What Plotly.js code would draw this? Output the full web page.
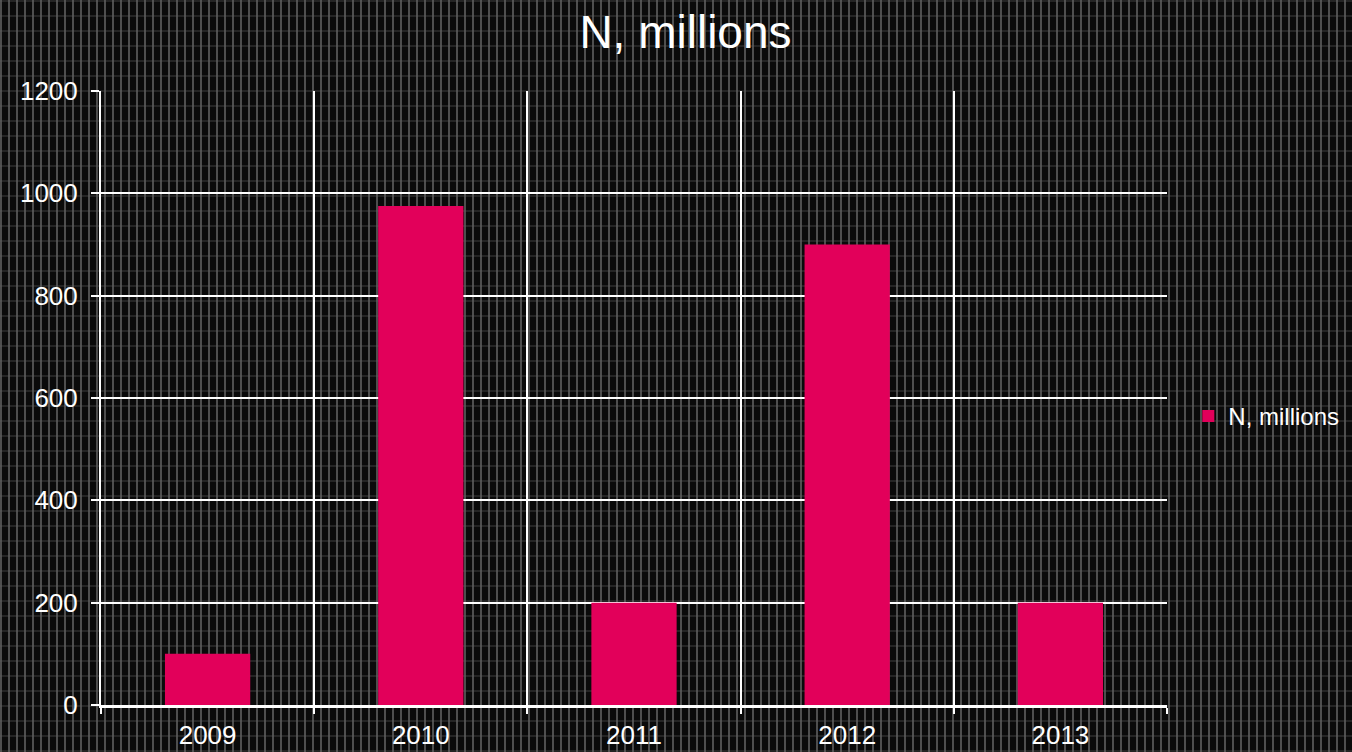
<!DOCTYPE html>
<html>
<head>
<meta charset="utf-8">
<script src="https://cdn.plot.ly/plotly-3.0.1.min.js"></script>
<style>
  html, body { margin: 0; padding: 0; width: 1352px; height: 752px; overflow: hidden; }
  body {
    background-color: #0a0a0a;
    background-image:
      repeating-linear-gradient(90deg, rgba(95,95,95,0.8) 0px, rgba(95,95,95,0.8) 2px, transparent 2px, transparent 8px),
      repeating-linear-gradient(0deg, rgba(95,95,95,0.3) 0px, rgba(95,95,95,0.3) 2px, transparent 2px, transparent 15px);
  }
  #chart { width: 1352px; height: 752px; }
</style>
</head>
<body>
<div id="chart"></div>
<script>
const categories = ["2009", "2010", "2011", "2012", "2013"];
const values = [100, 975, 200, 900, 200];
const seriesName = "N, millions";
const chartTitle = "N, millions";
const yTicks = [0, 200, 400, 600, 800, 1000, 1200];

const trace = {
  type: "bar",
  x: categories,
  y: values,
  name: seriesName,
  marker: { color: "#e2005a" },
  width: 0.4,
  showlegend: true
};

const FONT = "Liberation Sans, Arial, sans-serif";

const layout = {
  width: 1352,
  height: 752,
  paper_bgcolor: "rgba(0,0,0,0)",
  plot_bgcolor: "rgba(0,0,0,0)",
  font: { family: FONT, color: "#ffffff", size: 26 },
  title: {
    text: chartTitle,
    font: { size: 46, color: "#ffffff", family: FONT },
    x: 0.507, xanchor: "center",
    y: 0.958, yanchor: "middle"
  },
  margin: { l: 101, r: 185, t: 91, b: 47, autoexpand: false },
  xaxis: {
    type: "category",
    tickson: "boundaries",
    showgrid: true,
    gridcolor: "#ffffff",
    gridwidth: 2,
    showline: true,
    linecolor: "#ffffff",
    linewidth: 3,
    ticks: "outside",
    ticklen: 6,
    tickwidth: 2,
    tickcolor: "#ffffff",
    tickfont: { size: 26, color: "#ffffff", family: FONT },
    ticklabelstandoff: 5,
    zeroline: false,
    automargin: false
  },
  yaxis: {
    range: [0, 1200],
    tickvals: yTicks,
    showgrid: true,
    gridcolor: "#ffffff",
    gridwidth: 2,
    showline: true,
    linecolor: "#ffffff",
    linewidth: 2,
    ticks: "outside",
    ticklen: 8,
    tickwidth: 2,
    tickcolor: "#ffffff",
    tickfont: { size: 26, color: "#ffffff", family: FONT },
    ticklabelstandoff: 8,
    zeroline: false,
    automargin: false
  },
  legend: {
    x: 1.02, xanchor: "left",
    y: 0.47, yanchor: "middle",
    bgcolor: "rgba(0,0,0,0)",
    font: { size: 24, color: "#ffffff", family: FONT },
    itemwidth: 30
  },
  bargap: 0.6
};

Plotly.newPlot("chart", [trace], layout, { staticPlot: true, displayModeBar: false });
</script>
</body>
</html>
